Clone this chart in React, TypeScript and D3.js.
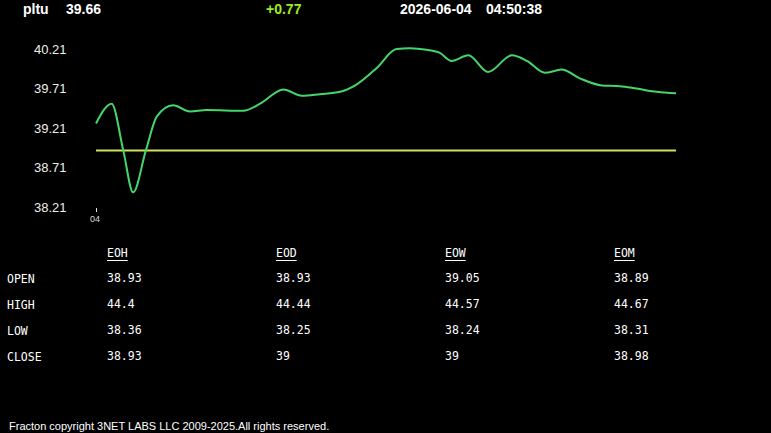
import React from "react";
import * as d3 from "d3";

const W = 771;
const H = 433;

const symbol = "pltu";
const lastPrice = "39.66";
const change = "+0.77";
const dateText = "2026-06-04";
const timeText = "04:50:38";

// time offsets (arbitrary units across the session) and prices
const times = [0, 2.7, 4.7, 6.4, 8.6, 10.5, 13.3, 16.2, 19.1, 25.4, 28.3, 32.3, 35.5, 38.6, 42.1, 44.9, 48.4, 51.8, 54.1, 57.0, 59.3, 61.3, 64.2, 67.6, 71.7, 74.3, 77.4, 80.3, 83.4, 87.2, 90.3, 93.2, 96.7, 100];
const prices = [39.27, 39.52, 38.93, 38.40, 38.93, 39.36, 39.50, 39.42, 39.44, 39.43, 39.52, 39.70, 39.62, 39.64, 39.67, 39.76, 39.97, 40.21, 40.22, 40.20, 40.16, 40.06, 40.13, 39.92, 40.13, 40.06, 39.91, 39.95, 39.84, 39.75, 39.74, 39.71, 39.67, 39.65];
const openPrice = 38.93;

const yTicks = [40.21, 39.71, 39.21, 38.71, 38.21];
const xTickLabels = ["04"];

const tableCols = ["EOH", "EOD", "EOW", "EOM"];
const tableRows = ["OPEN", "HIGH", "LOW", "CLOSE"];
const eohValues = ["38.93", "44.4", "38.36", "38.93"];
const eodValues = ["38.93", "44.44", "38.25", "39"];
const eowValues = ["39.05", "44.57", "38.24", "39"];
const eomValues = ["38.89", "44.67", "38.31", "38.98"];
const tableValues = [eohValues, eodValues, eowValues, eomValues];

const footer = "Fracton copyright 3NET LABS LLC 2009-2025.All rights reserved.";

export default function App() {
  const x = d3.scaleLinear().domain([0, 100]).range([96, 676]);
  const y = d3.scaleLinear().domain([38.21, 40.21]).range([207.4, 49]);

  const data = times.map((t, i) => [t, prices[i]] as [number, number]);
  const line = d3
    .line<[number, number]>()
    .x((d) => x(d[0]))
    .y((d) => y(d[1]))
    .curve(d3.curveMonotoneX);

  const colX = d3.scalePoint<string>().domain(tableCols).range([107, 614]);
  const rowY = d3.scalePoint<string>().domain(tableRows).range([283, 361]);

  const mono = "'DejaVu Sans Mono', 'Liberation Mono', monospace";
  const sans = "Arial, 'Liberation Sans', sans-serif";

  return (
    <svg
      width={W}
      height={H}
      style={{ position: "absolute", left: 0, top: 0, background: "#000" }}
    >
      <rect x={0} y={0} width={W} height={H} fill="#000" />
      {/* header */}
      <g fontFamily={sans} fontWeight="bold" fontSize={14}>
        <text x={23} y={14} fill="#fff">{symbol}</text>
        <text x={66} y={14} fill="#fff">{lastPrice}</text>
        <text x={266} y={14} fill="#99ee22">{change}</text>
        <text x={400} y={14} fill="#fff">{dateText}</text>
        <text x={486} y={14} fill="#fff">{timeText}</text>
      </g>

      {/* y axis labels */}
      <g fontFamily={sans} fontSize={13} fill="#eee">
        {yTicks.map((v) => (
          <text key={v} x={34} y={y(v)} dy="0.36em">
            {v.toFixed(2)}
          </text>
        ))}
      </g>

      {/* x tick */}
      {xTickLabels.map((l) => (
        <g key={l}>
          <line x1={x(0) + 0.5} x2={x(0) + 0.5} y1={208} y2={212} stroke="#ddd" strokeWidth={1} />
          <text x={x(0) - 1} y={222} fontFamily={sans} fontSize={9} fill="#ddd" textAnchor="middle">
            {l}
          </text>
        </g>
      ))}

      {/* open line */}
      <line
        x1={x(0)}
        x2={x(100)}
        y1={y(openPrice)}
        y2={y(openPrice)}
        stroke="#d4df5c"
        strokeWidth={2}
      />

      {/* price line */}
      <path d={line(data) || ""} fill="none" stroke="#45d66a" strokeWidth={2} />

      {/* table */}
      <g fontFamily={mono} fontSize={11.5} fill="#fff">
        {tableCols.map((c) => (
          <g key={c}>
            <text x={colX(c)} y={257}>{c}</text>
            <line
              x1={colX(c)}
              x2={(colX(c) || 0) + c.length * 6.9}
              y1={260.5}
              y2={260.5}
              stroke="#fff"
              strokeWidth={1}
            />
          </g>
        ))}
        {tableRows.map((r, ri) => (
          <g key={r}>
            <text x={7} y={rowY(r)}>{r}</text>
            {tableCols.map((c, ci) => (
              <text key={c} x={colX(c)} y={(rowY(r) || 0) - 1}>
                {tableValues[ci][ri]}
              </text>
            ))}
          </g>
        ))}
      </g>

      {/* footer */}
      <text x={9} y={430} fontFamily={sans} fontSize={11} fill="#fff">
        {footer}
      </text>
    </svg>
  );
}
